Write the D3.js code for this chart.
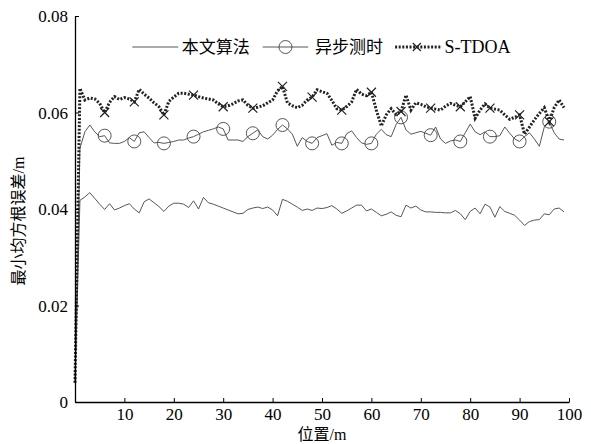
<!DOCTYPE html>
<html><head><meta charset="utf-8">
<script src="https://cdn.jsdelivr.net/npm/d3@7"></script>
<style>
body{margin:0;background:#fff;}
text{font-family:"Liberation Serif","Noto Sans CJK SC",serif;}
</style></head>
<body><svg id="c" width="591" height="444"></svg>
<script>
const positions = d3.range(0, 100);
const seriesNames = ["本文算法", "异步测时", "S-TDOA"];
const proposed = [0.004,0.0418,0.0425,0.0434,0.0422,0.0410,0.0399,0.0411,0.0398,0.0402,
0.0407,0.0411,0.0400,0.0392,0.0415,0.0421,0.0413,0.0405,0.0395,0.0406,
0.0412,0.0412,0.0410,0.0403,0.0417,0.0400,0.0424,0.0413,0.0410,0.0406,
0.0402,0.0398,0.0394,0.0390,0.0391,0.0399,0.0402,0.0404,0.0401,0.0404,
0.0398,0.0386,0.0420,0.0416,0.0410,0.0404,0.0397,0.0400,0.0397,0.0402,
0.0401,0.0403,0.0407,0.0400,0.0391,0.0396,0.0402,0.0408,0.0408,0.0396,
0.0400,0.0393,0.0386,0.0389,0.0394,0.0387,0.0384,0.0408,0.0402,0.0406,
0.0398,0.0394,0.0394,0.0393,0.0393,0.0392,0.0392,0.0397,0.0390,0.0378,
0.0395,0.0402,0.0390,0.0410,0.0404,0.0383,0.0405,0.0395,0.0391,0.0387,
0.0377,0.0366,0.0374,0.0377,0.0378,0.0390,0.0388,0.0400,0.0402,0.0394];
const async = [0.004,0.0526,0.0560,0.0574,0.0560,0.0550,0.0552,0.0537,0.0536,0.0536,
0.0540,0.0548,0.0540,0.0558,0.0560,0.0548,0.0537,0.0538,0.0536,0.0538,
0.0540,0.0543,0.0543,0.0547,0.0550,0.0555,0.0560,0.0563,0.0566,0.0570,
0.0566,0.0543,0.0543,0.0543,0.0540,0.0550,0.0557,0.0564,0.0550,0.0545,
0.0553,0.0565,0.0574,0.0566,0.0555,0.0530,0.0548,0.0540,0.0536,0.0548,
0.0552,0.0556,0.0532,0.0538,0.0536,0.0556,0.0562,0.0548,0.0537,0.0534,
0.0536,0.0555,0.0565,0.0554,0.0550,0.0575,0.0590,0.0564,0.0555,0.0558,
0.0561,0.0557,0.0553,0.0570,0.0545,0.0536,0.0541,0.0543,0.0540,0.0558,
0.0576,0.0560,0.0554,0.0560,0.0550,0.0550,0.0552,0.0570,0.0557,0.0545,
0.0540,0.0550,0.0558,0.0545,0.0530,0.0570,0.0581,0.0558,0.0545,0.0543];
const stdoa = [0.004,0.0650,0.0626,0.0630,0.0628,0.0619,0.0600,0.0621,0.0633,0.0627,
0.0631,0.0628,0.0622,0.0648,0.0638,0.0630,0.0620,0.0612,0.0595,0.0623,
0.0632,0.0640,0.0640,0.0638,0.0636,0.0633,0.0630,0.0628,0.0626,0.0618,
0.0612,0.0614,0.0618,0.0624,0.0626,0.0615,0.0609,0.0611,0.0614,0.0620,
0.0626,0.0645,0.0654,0.0620,0.0614,0.0610,0.0615,0.0626,0.0632,0.0647,
0.0643,0.0640,0.0625,0.0608,0.0605,0.0612,0.0622,0.0648,0.0638,0.0635,
0.0642,0.0605,0.0572,0.0595,0.0608,0.0596,0.0602,0.0636,0.0605,0.0620,
0.0617,0.0612,0.0609,0.0607,0.0605,0.0613,0.0619,0.0615,0.0612,0.0622,
0.0633,0.0588,0.0605,0.0618,0.0609,0.0607,0.0605,0.0595,0.0586,0.0590,
0.0595,0.0555,0.0570,0.0585,0.0598,0.0610,0.0581,0.0610,0.0626,0.0610];
const markerPositions = [6,12,18,24,30,36,42,48,54,60,66,72,78,84,90,96];
const xTicks = [10,20,30,40,50,60,70,80,90,100];
const yTicks = [0,0.02,0.04,0.06,0.08];
const xTitle = "位置/m";
const yTitle = "最小均方根误差/m";

const svg = d3.select("#c");
const x = d3.scaleLinear().domain([0,100]).range([75,569]);
const y = d3.scaleLinear().domain([0,0.08]).range([402,16]);

const line = d3.line().x((d,i)=>x(positions[i])).y(d=>y(d));

// series 1
svg.append("path").datum(proposed).attr("d",line)
  .attr("fill","none").attr("stroke","#444").attr("stroke-width",0.9);
// series 2
svg.append("path").datum(async).attr("d",line)
  .attr("fill","none").attr("stroke","#444").attr("stroke-width",0.9);
svg.selectAll("circle.m").data(markerPositions).enter().append("circle")
  .attr("cx",d=>x(d)).attr("cy",d=>y(async[positions.indexOf(d)])).attr("r",6.5)
  .attr("fill","none").attr("stroke","#444").attr("stroke-width",0.9);
// series 3
svg.append("path").datum(stdoa).attr("d",line)
  .attr("fill","none").attr("stroke","#222").attr("stroke-width",3)
  .attr("stroke-dasharray","2,1.6");
const crossPath = s => `M${-s},${-s}L${s},${s}M${-s},${s}L${s},${-s}`;
svg.selectAll("path.x").data(markerPositions).enter().append("path")
  .attr("transform",d=>`translate(${x(d)},${y(stdoa[positions.indexOf(d)])})`)
  .attr("d",crossPath(4.5)).attr("stroke","#222").attr("stroke-width",1.2).attr("fill","none");

// axes
const xa = svg.append("g").attr("transform","translate(0,402)")
  .call(d3.axisBottom(x).tickValues(xTicks).tickSizeInner(-4).tickSizeOuter(0).tickPadding(6));
const ya = svg.append("g").attr("transform","translate(75,0)")
  .call(d3.axisLeft(y).tickValues(yTicks).tickSizeInner(-4).tickSizeOuter(0).tickPadding(7)
    .tickFormat(d=>d===0?"0":d.toFixed(2)));
[xa,ya].forEach(g=>{
  g.select(".domain").attr("stroke","#000").attr("stroke-width",1.3);
  g.selectAll(".tick line").attr("stroke","#000");
  g.selectAll(".tick text").attr("fill","#000").style("font-size","17px")
   .style("font-family","'Liberation Serif',serif");
});
ya.selectAll(".tick text").attr("dy","0.35em");

svg.append("text").attr("x",322).attr("y",440).attr("text-anchor","middle")
  .style("font-size","16px").text(xTitle);
svg.append("text").attr("transform","translate(24,221) rotate(-90)").attr("text-anchor","middle")
  .style("font-size","16px").text(yTitle);

// legend
const ly = 47;
const lg = svg.append("g");
lg.append("line").attr("x1",x(11.6)).attr("x2",x(20.9)).attr("y1",ly).attr("y2",ly)
  .attr("stroke","#444").attr("stroke-width",0.9);
lg.append("text").attr("x",x(21.6)).attr("y",ly).attr("dy","0.35em").style("font-size","17px").text(seriesNames[0]);
lg.append("line").attr("x1",x(38)).attr("x2",x(47.2)).attr("y1",ly).attr("y2",ly)
  .attr("stroke","#444").attr("stroke-width",0.9);
lg.append("circle").attr("cx",x(42.6)).attr("cy",ly).attr("r",6.5).attr("fill","none").attr("stroke","#444").attr("stroke-width",0.9);
lg.append("text").attr("x",x(48.6)).attr("y",ly).attr("dy","0.35em").style("font-size","17px").text(seriesNames[1]);
lg.append("line").attr("x1",x(64.8)).attr("x2",x(74.3)).attr("y1",ly).attr("y2",ly)
  .attr("stroke","#222").attr("stroke-width",3).attr("stroke-dasharray","2,1.6");
lg.append("path").attr("transform",`translate(${x(69.2)},${ly})`).attr("d",crossPath(4))
  .attr("stroke","#222").attr("stroke-width",1.2);
lg.append("text").attr("x",x(74.8)).attr("y",ly).attr("dy","0.35em").style("font-size","18px")
  .style("font-family","'Liberation Serif',serif").text(seriesNames[2]);
</script></body></html>
